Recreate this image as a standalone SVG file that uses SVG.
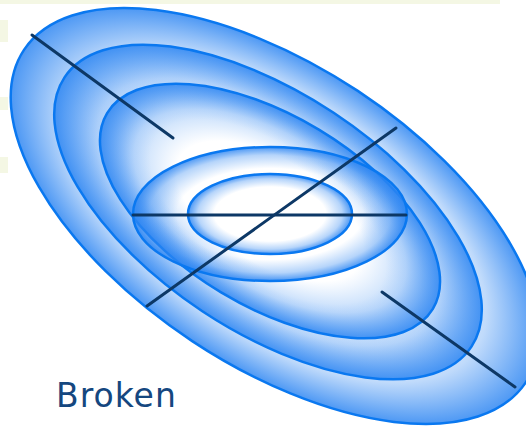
<svg xmlns="http://www.w3.org/2000/svg" width="526" height="426" viewBox="0 0 526 426">
  <defs>
    <radialGradient id="gRot">
      <stop offset="0" stop-color="#2e86f2" stop-opacity="0"/>
      <stop offset="0.55" stop-color="#2e86f2" stop-opacity="0"/>
      <stop offset="0.8" stop-color="#2e86f2" stop-opacity="0.3"/>
      <stop offset="1" stop-color="#2e86f2" stop-opacity="0.85"/>
    </radialGradient>
    <radialGradient id="gHor">
      <stop offset="0" stop-color="#2e86f2" stop-opacity="0"/>
      <stop offset="0.68" stop-color="#2e86f2" stop-opacity="0"/>
      <stop offset="0.88" stop-color="#2e86f2" stop-opacity="0.35"/>
      <stop offset="1" stop-color="#2e86f2" stop-opacity="0.85"/>
    </radialGradient>
  </defs>
  <style>
    .shape { fill: url(#gRot); stroke: #0a78f0; stroke-width: 2.5; }
    .hshape { fill: url(#gHor); stroke: #0a78f0; stroke-width: 2.5; }
    .axis { stroke: #0d3866; stroke-width: 3; stroke-linecap: round; fill: none; }
    .label { font-family: "DejaVu Sans", "Liberation Sans", sans-serif; font-size: 33px; letter-spacing: 1px; fill: #15477f; }
    .wm { fill: #f4f7e4; }
  </style>
  <rect width="526" height="426" fill="#ffffff"/>
  <g id="watermark">
    <rect class="wm" x="0" y="0" width="500" height="4"/>
    <rect class="wm" x="0" y="20" width="8" height="22"/>
    <rect class="wm" x="0" y="97" width="8" height="13"/>
    <rect class="wm" x="0" y="157" width="8" height="16"/>
  </g>
  <g id="outer">
    <ellipse class="shape" cx="0" cy="0" rx="301" ry="150" transform="translate(275 216) rotate(33.5)"/>
  </g>
  <g id="second">
    <ellipse class="shape" cx="0" cy="0" rx="244" ry="119" transform="translate(268 212) rotate(33.5)"/>
  </g>
  <g id="third">
    <ellipse class="shape" cx="0" cy="0" rx="190" ry="95" transform="translate(270 211) rotate(31)"/>
  </g>
  <g id="middle">
    <ellipse class="hshape" cx="270" cy="214" rx="137" ry="67"/>
  </g>
  <g id="inner">
    <ellipse class="hshape" cx="270" cy="214" rx="82" ry="40"/>
  </g>
  <g id="connectors">
    <line class="axis" x1="32" y1="35" x2="173" y2="138"/>
    <line class="axis" x1="382" y1="292" x2="515" y2="387"/>
    <line class="axis" x1="133" y1="215" x2="406" y2="215"/>
    <line class="axis" x1="147" y1="306" x2="396" y2="128"/>
  </g>
  <g id="caption">
    <text class="label" x="56" y="407">Broken</text>
  </g>
</svg>
